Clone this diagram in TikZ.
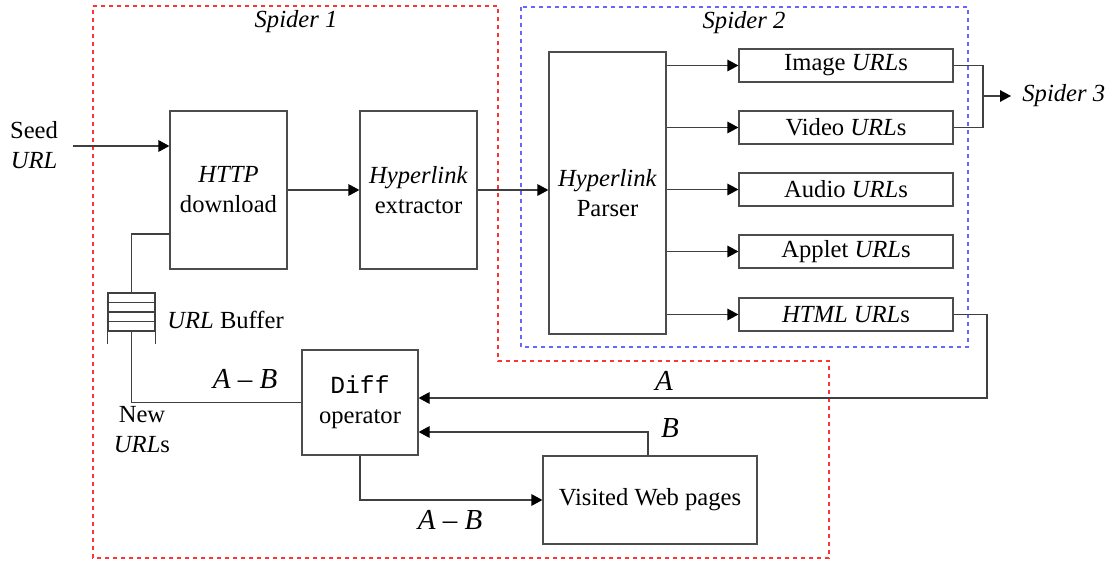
\documentclass[tikz,border=0pt]{standalone}
\usepackage{fontspec}
\setmainfont{Liberation Serif}[Ligatures=TeX]
\setmonofont{Liberation Mono}
\usetikzlibrary{arrows.meta}

\tikzset{
  base/.style={font=\rmfamily\fontsize{12.3}{15}\selectfont},
  box/.style={base, draw=black!70, line width=0.6pt, align=center, inner sep=0pt},
  tallbox/.style={box, minimum width=58.5pt, minimum height=79pt},
  urlbox/.style={box, minimum width=107pt, minimum height=16.5pt},
  wire/.style={draw=black!75, line width=0.6pt},
  arr/.style={wire, -{Triangle[length=5.5pt, width=5.8pt, black]}},
  biglabel/.style={font=\rmfamily\fontsize{14.5}{16}\selectfont\itshape, inner sep=0pt},
  lbl/.style={base, inner sep=0pt, align=center},
  title/.style={lbl, font=\rmfamily\fontsize{12.3}{15}\selectfont\itshape},
  zone1/.style={draw=red!80, line width=0.6pt, dash pattern=on 2pt off 2pt},
  zone2/.style={draw=blue!60, line width=0.6pt, dash pattern=on 2pt off 2pt},
}

\begin{document}
\begin{tikzpicture}[x=0.5pt, y=-0.5pt]
\useasboundingbox (0,0) rectangle (1110,561);

% spider regions
\draw[zone1] (93,6) -- (498,6) -- (498,361) -- (829,361) -- (829,558) -- (93,558) -- cycle;
\draw[zone2] (521,7) rectangle (968,347);
\node[title] (sp1) at (296,22) {Spider 1};
\node[title] (sp2) at (744,23) {Spider 2};

% main pipeline
\node[lbl] (seed) at (34,145) {Seed\\\textit{URL}};
\node[tallbox] (http) at (228.5,190) {\textit{HTTP}\\download};
\node[tallbox] (ext) at (418.5,190) {\textit{Hyperlink}\\extractor};
\node[box, minimum width=58.5pt, minimum height=141pt] (parser) at (607.5,193) {\textit{Hyperlink}\\Parser};

\node[urlbox] (img) at (846,65.5) {Image \textit{URL}s};
\node[urlbox] (vid) at (846,127.5) {Video \textit{URL}s};
\node[urlbox] (aud) at (846,189.5) {Audio \textit{URL}s};
\node[urlbox] (app) at (846,251.5) {Applet \textit{URL}s};
\node[urlbox] (html) at (846,314.5) {\textit{HTML URL}s};

\node[title, anchor=west] (sp3) at (1022,96) {Spider 3};

% URL buffer
\node[draw=black!75, line width=0.6pt, minimum width=23.5pt, minimum height=19pt, inner sep=0pt] (buf) at (131.5,312) {};
\draw[wire] (108,302.5) -- (155,302.5) (108,312) -- (155,312) (108,321.5) -- (155,321.5);
\draw[wire] (buf.south west) -- ++(0,12) (buf.south east) -- ++(0,12);
\node[lbl, anchor=west] (buftxt) at (167,320) {\textit{URL} Buffer};
\node[lbl] (newurl) at (142,430) {New\\\textit{URL}s};

% diff and visited
\node[box, minimum width=58pt, minimum height=52.5pt] (diff) at (360,402.5) {\texttt{Diff}\\operator};
\node[box, minimum width=107pt, minimum height=44pt] (vis) at (650,500) {Visited Web pages};

% connectors
\coordinate (seedin) at (73,146);
\draw[arr] (seedin) -- (seedin -| http.west);
\draw[arr] (http.east) -- (ext.west);
\draw[arr] (ext.east) -- (ext.east -| parser.west);
\foreach \b in {img,vid,aud,app,html}
  \draw[arr] (\b.west -| parser.east) -- (\b.west);

\coordinate (join3) at (983,96);
\draw[wire] (img.east) -| (join3);
\draw[wire] (vid.east) -| (join3);
\draw[arr] (join3) -- (1011,96);

\coordinate (httpbuf) at (170,234);
\draw[wire] (buf.north) |- (httpbuf);
\draw[wire] (buf.south) |- (diff.west);
\node[biglabel] (ab1) at (245,379) {A -- B};

\coordinate (aturn) at (987,398);
\draw[arr] (html.east) -| (aturn) -- (aturn -| diff.east);
\node[biglabel] (alab) at (664,381) {A};

\coordinate (bturn) at (648,432);
\draw[arr] (bturn |- vis.north) -- (bturn) -- (bturn -| diff.east);
\node[biglabel] (blab) at (670,428) {B};

\draw[arr] (diff.south) |- (vis.west);
\node[biglabel] (ab2) at (450,520) {A -- B};
\end{tikzpicture}
\end{document}
